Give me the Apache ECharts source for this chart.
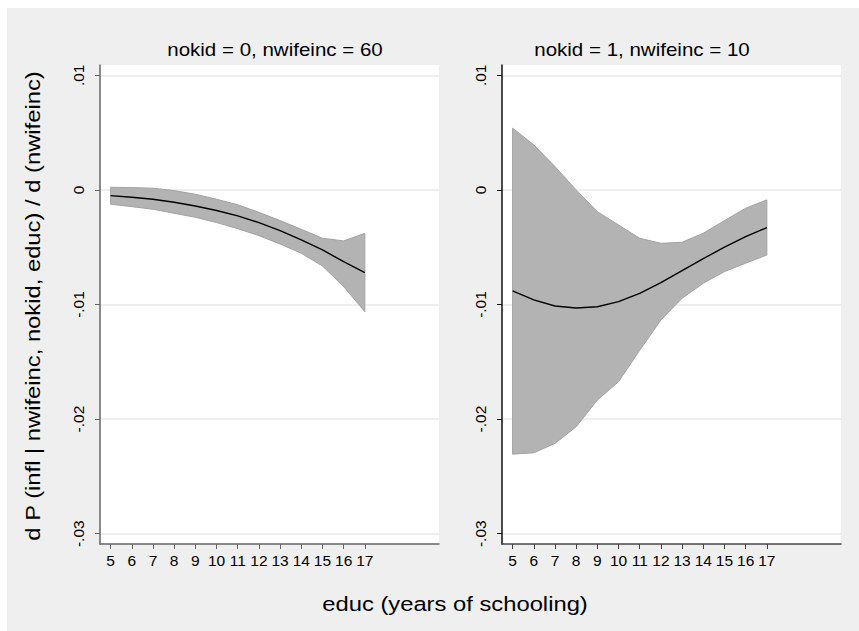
<!DOCTYPE html>
<html>
<head>
<meta charset="utf-8">
<script src="https://cdn.jsdelivr.net/npm/echarts@6/dist/echarts.min.js"></script>
<style>
  html, body { margin: 0; padding: 0; background: #ffffff; }
  #chart { width: 859px; height: 631px; }
</style>
</head>
<body>
<div id="chart"></div>
<script>
// ---- data ----
const educ = [5, 6, 7, 8, 9, 10, 11, 12, 13, 14, 15, 16, 17];

// panel 1: nokid = 0, nwifeinc = 60
const leftTitle = 'nokid = 0, nwifeinc = 60';
const leftMid   = [-0.0005, -0.00064, -0.00081, -0.00108, -0.0014, -0.0018, -0.00227, -0.00285, -0.00355, -0.00437, -0.00524, -0.00626, -0.00722];
const leftUpper = [0.00023, 0.0002, 0.00015, -0.00006, -0.00038, -0.00081, -0.0013, -0.00195, -0.00268, -0.00344, -0.00422, -0.00445, -0.00379];
const leftLower = [-0.00125, -0.00146, -0.00169, -0.00204, -0.00239, -0.00285, -0.00338, -0.00399, -0.00472, -0.00553, -0.00664, -0.00844, -0.01063];

// panel 2: nokid = 1, nwifeinc = 10
const rightTitle = 'nokid = 1, nwifeinc = 10';
const rightMid   = [-0.00882, -0.0096, -0.01013, -0.0103, -0.0102, -0.00975, -0.00903, -0.0081, -0.00705, -0.006, -0.005, -0.00408, -0.00329];
const rightUpper = [0.00539, 0.00393, 0.00204, 0.0, -0.0019, -0.00306, -0.00422, -0.00466, -0.00457, -0.00378, -0.00268, -0.0016, -0.00087];
const rightLower = [-0.02306, -0.02294, -0.02212, -0.02067, -0.01834, -0.01674, -0.0140, -0.01135, -0.00946, -0.00815, -0.00713, -0.0064, -0.00568];

const yTicks = [-0.03, -0.02, -0.01, 0, 0.01];
const yTickLabels = ['-.03', '-.02', '-.01', '0', '.01'];
const xTicks = educ;

const xTitle = 'educ (years of schooling)';
const yTitle = 'd P (infl | nwifeinc, nokid, educ) / d (nwifeinc)';

// ---- chart ----
const FONT = '"Liberation Sans", Arial, Helvetica, sans-serif';
const chart = echarts.init(document.getElementById('chart'), null, { renderer: 'svg' });

function yLabel(v) {
  for (let i = 0; i < yTicks.length; i++) {
    if (Math.abs(v - yTicks[i]) < 1e-9) return yTickLabels[i];
  }
  return '';
}

function makeX(gi, lineColor) {
  return {
    type: 'value', gridIndex: gi, min: 4.5, max: 20.5,
    axisLine: { show: true, onZero: false, lineStyle: { color: lineColor, width: 1.5 } },
    axisTick: { show: true, customValues: xTicks, length: 5, lineStyle: { color: lineColor, width: 1 } },
    axisLabel: { show: true, customValues: xTicks, fontSize: 15.5, color: '#000', fontFamily: FONT, margin: 8 },
    splitLine: { show: false }
  };
}
function makeY(gi, lineColor) {
  return {
    type: 'value', gridIndex: gi, min: -0.0309, max: 0.0109,
    axisLine: { show: true, onZero: false, lineStyle: { color: lineColor, width: 1.5 } },
    axisTick: { show: true, customValues: yTicks, length: 5, lineStyle: { color: lineColor, width: 1 } },
    axisLabel: { show: true, customValues: yTicks, rotate: 90, fontSize: 15.5, color: '#000', fontFamily: FONT, margin: 14,
                 formatter: yLabel },
    splitLine: { show: true, lineStyle: { color: '#e9e9e9', width: 1.5 } }
  };
}

function bandSeries(gi, upper, lower) {
  return {
    type: 'custom', xAxisIndex: gi, yAxisIndex: gi, silent: true, z: 2,
    data: educ.map((e, i) => [e, upper[i], lower[i]]),
    renderItem: function (params, api) {
      if (params.dataIndex !== 0) return null;
      const pts = [];
      for (let j = 0; j < educ.length; j++) pts.push(api.coord([educ[j], upper[j]]));
      for (let j = educ.length - 1; j >= 0; j--) pts.push(api.coord([educ[j], lower[j]]));
      return {
        type: 'polygon',
        shape: { points: pts },
        style: { fill: '#b3b3b3', stroke: '#a3a3a3', lineWidth: 1 }
      };
    }
  };
}
function lineSeries(gi, mid) {
  return {
    type: 'line', xAxisIndex: gi, yAxisIndex: gi, z: 3,
    data: educ.map((e, i) => [e, mid[i]]),
    showSymbol: false, symbol: 'none', animation: false,
    lineStyle: { color: '#000', width: 1.4 }
  };
}

const option = {
  animation: false,
  backgroundColor: '#ffffff',
  grid: [
    { left: 100, top: 65, width: 339, height: 479, show: true, backgroundColor: '#ffffff', borderWidth: 0, containLabel: false },
    { left: 502, top: 65, width: 339, height: 479, show: true, backgroundColor: '#ffffff', borderWidth: 0, containLabel: false }
  ],
  xAxis: [makeX(0, '#666666'), makeX(1, '#444444')],
  yAxis: [makeY(0, '#666666'), makeY(1, '#111111')],
  series: [
    bandSeries(0, leftUpper, leftLower),
    lineSeries(0, leftMid),
    bandSeries(1, rightUpper, rightLower),
    lineSeries(1, rightMid)
  ],
  graphic: [
    { type: 'rect', z: -10, silent: true, shape: { x: 7, y: 8, width: 852, height: 623 }, style: { fill: '#efefef' } },
    { type: 'text', x: 275, y: 50, scaleX: 1.14, silent: true,
      style: { text: leftTitle, align: 'center', verticalAlign: 'middle', font: '18px ' + FONT, fill: '#000' } },
    { type: 'text', x: 642, y: 50, scaleX: 1.14, silent: true,
      style: { text: rightTitle, align: 'center', verticalAlign: 'middle', font: '18px ' + FONT, fill: '#000' } },
    { type: 'text', x: 455, y: 604, scaleX: 1.16, silent: true,
      style: { text: xTitle, align: 'center', verticalAlign: 'middle', font: '20.5px ' + FONT, fill: '#000' } },
    { type: 'text', x: 33, y: 306, rotation: Math.PI / 2, scaleX: 1.16, silent: true,
      style: { text: yTitle, align: 'center', verticalAlign: 'middle', font: '20.5px ' + FONT, fill: '#000' } }
  ]
};
chart.setOption(option);
</script>
</body>
</html>
